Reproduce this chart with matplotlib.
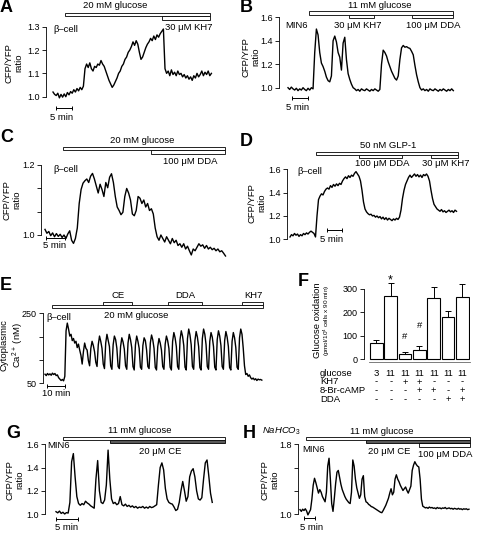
import numpy as np
import matplotlib.pyplot as plt
from matplotlib.patches import Rectangle
from matplotlib.transforms import blended_transform_factory

plt.rcParams['font.family'] = ['Liberation Sans', 'DejaVu Sans']
plt.rcParams['mathtext.fontset'] = 'custom'
plt.rcParams['mathtext.rm'] = 'Liberation Sans'
plt.rcParams['mathtext.it'] = 'Liberation Sans:italic'

# ---- data (time in min) ----
# A: beta-cell, 20 mM glucose then KH7, sampled every 0.5 min
a_dt = 0.5
a_ratio = [1.02, 1.01, 1.005, 1.015, 0.995, 1.01, 0.998, 1.012, 1.0, 1.018,
           1.008, 1.022, 1.015, 1.03, 1.02, 1.035, 1.025, 1.04, 1.03, 1.045,
           1.12, 1.14, 1.125, 1.145, 1.12, 1.11, 1.13, 1.125, 1.14, 1.135,
           1.155, 1.14, 1.13, 1.11, 1.09, 1.07, 1.055, 1.04, 1.05, 1.065,
           1.08, 1.10, 1.11, 1.13, 1.14, 1.16, 1.17, 1.19, 1.20, 1.215,
           1.235, 1.22, 1.24, 1.225, 1.19, 1.16, 1.17, 1.19, 1.21, 1.225,
           1.235, 1.25, 1.24, 1.26, 1.245, 1.265, 1.255, 1.27, 1.28, 1.29,
           1.12, 1.10, 1.11, 1.09, 1.115, 1.095, 1.105, 1.09, 1.11, 1.095,
           1.10, 1.085, 1.095, 1.08, 1.09, 1.075, 1.085, 1.07, 1.09, 1.08,
           1.10, 1.085, 1.095, 1.11, 1.09, 1.105, 1.095, 1.11, 1.09, 1.10]

# B: MIN6, 11 mM glucose, KH7 and DDA
b_dt = 0.5
b_ratio = [1.0, 0.985, 1.005, 0.99, 0.98, 0.995, 0.975, 0.99, 0.98, 1.0,
           0.985, 0.975, 0.995, 0.98, 1.0, 0.99, 1.30, 1.50, 1.45, 1.30,
           1.21, 1.18, 1.14, 1.09, 1.06, 1.05, 1.10, 1.40, 1.44, 1.39,
           1.30, 1.26, 1.15, 1.38, 1.43, 1.24, 1.12, 1.07, 1.03, 1.0,
           0.99, 0.975, 0.985, 0.97, 0.99, 0.98, 0.975, 0.99, 0.98, 0.97,
           0.985, 0.975, 0.99, 0.98, 0.97, 0.985, 1.20, 1.32, 1.30, 1.27,
           1.22, 1.18, 1.14, 1.11, 1.08, 1.065, 1.10, 1.24, 1.34, 1.36,
           1.345, 1.35, 1.34, 1.335, 1.31, 1.28, 1.19, 1.11, 1.05, 1.0,
           0.98, 0.99, 0.975, 0.985, 0.97, 0.99, 0.98, 0.975, 0.99, 0.98,
           0.97, 0.985, 0.975, 0.99, 0.98, 0.97, 0.985, 0.975, 0.99, 0.975]

# C: beta-cell, 20 mM glucose then DDA
c_dt = 0.5
c_ratio = [1.016, 1.005, 1.01, 0.998, 1.006, 0.995, 1.004, 0.996, 1.002, 0.993,
           1.0, 0.99, 1.003, 1.012, 0.985, 0.976, 0.99, 1.02, 1.09, 1.13,
           1.148, 1.155, 1.16, 1.15, 1.168, 1.176, 1.16, 1.14, 1.12, 1.145,
           1.13, 1.11, 1.15, 1.135, 1.165, 1.175, 1.15, 1.11, 1.08, 1.07,
           1.058, 1.065, 1.11, 1.133, 1.12, 1.10, 1.06, 1.055, 1.07, 1.11,
           1.105, 1.09, 1.10, 1.08, 1.09, 1.07, 1.075, 1.06, 1.02, 0.995,
           0.985, 1.0, 0.99, 0.98, 0.995, 0.985, 0.975, 0.99, 0.978, 0.985,
           0.97, 0.975, 0.965, 0.975, 0.96, 0.968, 0.955, 0.943, 0.96, 0.955,
           0.965, 0.975, 0.968, 0.972, 0.962, 0.97, 0.96, 0.965, 0.958, 0.962,
           0.955, 0.96, 0.952, 0.955, 0.948, 0.94]

# D: beta-cell, GLP-1, DDA, KH7
d_dt = 0.5
d_ratio = [1.02, 1.04, 1.03, 1.05, 1.035, 1.045, 1.025, 1.04, 1.03, 1.05,
           1.04, 1.055, 1.045, 1.06, 1.07, 1.06, 1.05, 1.02, 1.20, 1.34,
           1.37, 1.39, 1.38, 1.41, 1.43, 1.44, 1.43, 1.46, 1.445, 1.47,
           1.455, 1.475, 1.46, 1.48, 1.47, 1.50, 1.52, 1.535, 1.52, 1.545,
           1.53, 1.55, 1.54, 1.565, 1.58, 1.56, 1.54, 1.50, 1.42, 1.32,
           1.26, 1.235, 1.22, 1.21, 1.215, 1.20, 1.205, 1.19, 1.20, 1.185,
           1.195, 1.175, 1.19, 1.17, 1.185, 1.165, 1.18, 1.17, 1.16, 1.175,
           1.165, 1.18, 1.17, 1.19, 1.25, 1.35, 1.42, 1.47, 1.50, 1.53,
           1.55, 1.53, 1.545, 1.56, 1.54, 1.555, 1.535, 1.55, 1.53, 1.555,
           1.545, 1.56, 1.54, 1.50, 1.42, 1.35, 1.30, 1.28, 1.26, 1.25,
           1.24, 1.255, 1.235, 1.245, 1.23, 1.24, 1.25, 1.235, 1.245, 1.23,
           1.25, 1.24]

# E: cytoplasmic Ca2+ (nM), sampled every 0.7 min
e_dt = 0.7
e_ca = [76, 72, 78, 74, 77, 73, 79, 75, 78, 72, 74, 66, 62, 58, 61, 57,
        70, 200, 222, 205, 185, 190, 172, 178, 165, 170, 152, 162, 145, 130, 105,
        140, 165, 150, 145, 115, 100,
        150, 170, 158, 140, 110, 98,
        160, 185, 170, 150, 105, 92,
        165, 190, 172, 155, 100, 90,
        160, 185, 175, 150, 98, 92,
        155, 180, 168, 148, 100, 90,
        165, 190, 175, 152, 98, 88,
        160, 185, 170, 150, 96, 90,
        158, 180, 172, 145, 98, 92,
        165, 188, 174, 150, 95, 88,
        155, 178, 165, 145, 98, 90,
        162, 185, 172, 150, 96, 88,
        170, 195, 180, 155, 98, 90,
        175, 200, 185, 158, 96, 88,
        178, 205, 188, 160, 98, 90,
        172, 198, 182, 155, 95, 88,
        178, 205, 190, 160, 98, 90,
        170, 195, 182, 155, 96, 88,
        175, 200, 185, 158, 98, 90,
        172, 198, 182, 155, 95, 88,
        170, 195, 180, 152, 96, 90,
        180, 205, 190, 150, 100, 75,
        78, 70, 74, 66, 62, 65, 60, 63, 58, 62, 60, 61, 59]

# F: glucose oxidation (pmol/10^4 cells x 90 min)
ox_mean = [68, 270, 22, 40, 262, 180, 265]
ox_err = [13, 54, 8, 17, 45, 26, 55]
row_names = ['glucose', 'KH7', '8-Br-cAMP', 'DDA']
row_glucose = ['3', '11', '11', '11', '11', '11', '11']
row_kh7 = ['-', '-', '+', '+', '-', '-', '-']
row_camp = ['-', '-', '-', '+', '+', '-', '+']
row_dda = ['-', '-', '-', '-', '-', '+', '+']

# G: MIN6, 11 mM glucose then CE, sampled every 0.4 min
g_dt = 0.4
g_ratio = [1.02, 1.01, 1.025, 1.005, 1.015, 1.0, 1.012, 1.008, 1.10, 1.45,
           1.52, 1.32, 1.15, 1.09, 1.075, 1.09, 1.08, 1.11, 1.095, 1.085,
           1.07, 1.06, 1.05, 1.30, 1.46, 1.20, 1.10, 1.09, 1.12, 1.25,
           1.55, 1.30, 1.13, 1.09, 1.10, 1.08, 1.09, 1.15, 1.08, 1.07,
           1.085, 1.065, 1.075, 1.06, 1.07, 1.055, 1.065, 1.05, 1.06, 1.055,
           1.065, 1.05, 1.06, 1.05, 1.065, 1.055, 1.06, 1.07, 1.08, 1.25,
           1.40, 1.44, 1.38, 1.22, 1.13, 1.10, 1.09, 1.085, 1.06, 1.03,
           1.04, 1.10, 1.20, 1.28, 1.20, 1.11, 1.15, 1.32, 1.37, 1.39,
           1.32, 1.20, 1.13, 1.12, 1.14, 1.30, 1.44, 1.465, 1.33, 1.18,
           1.10]

# H: MIN6 in NaHCO3, glucose, CE, DDA, sampled every 0.6 min
h_dt = 0.6
h_ratio = [1.05, 1.03, 1.055, 1.04, 1.06, 1.035, 0.99, 1.02, 1.05, 1.17,
           1.33, 1.41, 1.36, 1.30, 1.24, 1.28, 1.25, 1.20, 1.17, 1.14,
           1.25, 1.55, 1.64, 1.40, 1.12, 1.03, 1.18, 1.35, 1.48, 1.50,
           1.42, 1.34, 1.28, 1.24, 1.20, 1.17, 1.15, 1.13, 1.12, 1.25,
           1.62, 1.55, 1.40, 1.30, 1.24, 1.18, 1.22, 1.40, 1.44, 1.20,
           1.14, 1.13, 1.11, 1.10, 1.085, 1.08, 1.07, 1.06, 1.05, 1.04,
           1.03, 1.02, 1.015, 1.04, 1.07, 1.10, 1.14, 1.18, 1.24, 1.29,
           1.22, 1.25, 1.40, 1.45, 1.40, 1.37, 1.33, 1.30, 1.27, 1.29,
           1.31, 1.27, 1.24, 1.28, 1.32, 1.50, 1.56, 1.60, 1.57, 1.55,
           1.54, 1.40, 1.17, 1.09, 1.08, 1.07, 1.075, 1.065, 1.08, 1.07,
           1.075, 1.065, 1.07, 1.06, 1.075, 1.065, 1.07, 1.06, 1.07, 1.065,
           1.075, 1.06, 1.065, 1.07, 1.06, 1.065, 1.055, 1.065, 1.06, 1.055,
           1.065, 1.055, 1.06, 1.05, 1.06, 1.055, 1.06, 1.05, 1.055]

# ---- figure in pixel layout ----
W, H = 480, 533
fig = plt.figure(figsize=(W / 100, H / 100), dpi=100)
FS = 6.8
TFS = 6.5


def fx(px):
    return px / W


def fy(py):
    return 1 - py / H


def ftext(px, py, s, **kw):
    kw.setdefault('fontsize', FS)
    kw.setdefault('va', 'center')
    fig.text(fx(px), fy(py), s, **kw)


def panel_label(px, py, s):
    ftext(px, py, s, fontsize=13, weight='bold', ha='left')


def trace_axes(L, R, T, B, x0, ppm, v_lo, p_lo, v_hi, p_hi, ticks, labels):
    ax = fig.add_axes([fx(L), fy(B), (R - L) / W, (B - T) / H])
    s = (v_hi - v_lo) / (p_lo - p_hi)
    ax.set_ylim(v_lo - (B - p_lo) * s, v_lo + (p_lo - T) * s)
    ax.set_xlim((L - x0) / ppm, (R - x0) / ppm)
    for sp in ['top', 'right', 'bottom']:
        ax.spines[sp].set_visible(False)
    ax.spines['left'].set_bounds(v_lo, v_hi)
    ax.spines['left'].set_linewidth(0.6)
    ax.set_xticks([])
    ax.set_yticks(ticks)
    ax.set_yticklabels(labels)
    ax.tick_params(axis='y', length=3, width=0.6, labelsize=TFS, pad=1.5)
    ax.patch.set_alpha(0)
    return ax


def treat(ax, t0, t1, ptop, pbot, fc='white'):
    tr = blended_transform_factory(ax.transData, fig.transFigure)
    ax.add_patch(Rectangle((t0, fy(pbot)), t1 - t0, fy(ptop) - fy(pbot),
                           transform=tr, fc=fc, ec='black', lw=0.6,
                           clip_on=False))


def scale_bar(ax, t0, length, py):
    tr = blended_transform_factory(ax.transData, fig.transFigure)
    ax.plot([t0, t0 + length], [fy(py), fy(py)], transform=tr, color='black',
            lw=0.7, marker='|', ms=3, mew=0.7, clip_on=False)


def trace(ax, dt, vals):
    t = np.arange(len(vals)) * dt
    ax.plot(t, vals, color='black', lw=1.0)


def ratio_label(px, py):
    ftext(px, py, 'CFP/YFP\nratio', rotation=90, ha='center',
          multialignment='center')


# A
panel_label(0, 8, 'A')
axA = trace_axes(46, 214, 22, 100, 53, 3.2, 1.0, 96.7, 1.3, 26.7,
                 [1.0, 1.1, 1.2, 1.3], ['1.0', '1.1', '1.2', '1.3'])
trace(axA, a_dt, a_ratio)
treat(axA, 3.75, 49.1, 12.7, 16)
treat(axA, 34.1, 49.1, 16, 19.5)
ftext(115, 6, '20 mM glucose', ha='center')
ftext(189, 27, '30 \u03bcM KH7', ha='center')
ftext(53, 30, '\u03b2\u2013cell', ha='left')
ratio_label(14, 63)
scale_bar(axA, 0.94, 5, 108)
ftext(62, 117, '5 min', ha='center')

# B
panel_label(240, 8, 'B')
axB = trace_axes(279, 455, 14, 92, 288, 3.34, 1.0, 87.7, 1.6, 17.3,
                 [1.0, 1.2, 1.4, 1.6], ['1.0', '1.2', '1.4', '1.6'])
trace(axB, b_dt, b_ratio)
treat(axB, 6.3, 49.4, 11, 15)
treat(axB, 18.3, 25.7, 15, 18)
treat(axB, 37.1, 49.4, 15, 18)
ftext(380, 5, '11 mM glucose', ha='center')
ftext(358, 25, '30 \u03bcM KH7', ha='center')
ftext(433, 25, '100 \u03bcM DDA', ha='center')
ftext(285, 25, 'MIN6', ha='left')
ratio_label(251, 57)
scale_bar(axB, 1.1, 5, 98)
ftext(298, 108, '5 min', ha='center')

# C
panel_label(0, 138, 'C')
axC = trace_axes(41, 230, 160, 258, 45, 3.8, 1.0, 235, 1.2, 165,
                 np.linspace(1.0, 1.2, 4), ['1.0', '', '', '1.2'])
trace(axC, c_dt, c_ratio)
treat(axC, 4.7, 47.4, 146.7, 150)
treat(axC, 27.9, 47.4, 150, 154)
ftext(142, 140, '20 mM glucose', ha='center')
ftext(190, 162, '100 \u03bcM DDA', ha='center')
ftext(53, 170, '\u03b2\u2013cell', ha='left')
ratio_label(12, 200)
scale_bar(axC, 0.26, 5, 237.5)
ftext(55, 245, '5 min', ha='center')

# D
panel_label(240, 141, 'D')
axD = trace_axes(287, 460, 165, 243, 290, 3.0, 1.0, 239.3, 1.6, 169.3,
                 [1.0, 1.2, 1.4, 1.6], ['1.0', '1.2', '1.4', '1.6'])
trace(axD, d_dt, d_ratio)
treat(axD, 8.7, 56, 151.7, 155)
treat(axD, 23, 37.3, 155, 158)
treat(axD, 47, 56, 155, 158)
ftext(388, 145, '50 nM GLP-1', ha='center')
ftext(382, 164, '100 \u03bcM DDA', ha='center')
ftext(446, 164, '30 \u03bcM KH7', ha='center')
ftext(297, 172, '\u03b2\u2013cell', ha='left')
ratio_label(257, 203)
scale_bar(axD, 12.3, 5, 230)
ftext(332, 240, '5 min', ha='center')

# E
panel_label(0, 285, 'E')
axE = trace_axes(43, 265, 310, 386, 45, 1.77, 50, 383.3, 250, 313.3,
                 np.linspace(50, 250, 4), ['50', '', '', '250'])
trace(axE, e_dt, e_ca)
treat(axE, 4.0, 123.2, 305, 308.3)
treat(axE, 32.8, 49.2, 301.7, 305)
treat(axE, 69.5, 88.7, 301.7, 305)
treat(axE, 111.3, 123.2, 301.7, 305)
ftext(118, 295, 'CE', ha='center')
ftext(185, 295, 'DDA', ha='center')
ftext(253, 295, 'KH7', ha='center')
ftext(136, 316, '20 mM glucose', ha='center')
ftext(46, 317, '\u03b2\u2013cell', ha='left')
ftext(13, 345, 'Cytoplasmic\nCa$^{2+}$ (nM)', rotation=90, ha='center',
      multialignment='center')
scale_bar(axE, 1.1, 10, 386)
ftext(56, 394, '10 min', ha='center')

# F
panel_label(298, 282, 'F')
axF = fig.add_axes([fx(364), fy(362), (470 - 364) / W, (362 - 280) / H])
pos = np.arange(len(ox_mean))
s = 300 / (359.3 - 289)
axF.set_ylim(-(362 - 359.3) * s, (359.3 - 280) * s)
axF.set_xlim((364 - 376.3) / 14.35, (470 - 376.3) / 14.35)
axF.bar(pos, ox_mean, width=0.87, color='white', edgecolor='black', lw=0.8)
axF.errorbar(pos, ox_mean, yerr=[np.zeros(len(ox_err)), ox_err], fmt='none',
             ecolor='black', elinewidth=0.7, capsize=2, capthick=0.7)
for sp in ['top', 'right']:
    axF.spines[sp].set_visible(False)
axF.spines['left'].set_bounds(0, 300)
axF.spines['bottom'].set_bounds(-0.5, 6.5)
axF.spines['left'].set_linewidth(0.6)
axF.spines['bottom'].set_linewidth(0.6)
axF.spines['bottom'].set_color('0.4')
axF.set_xticks([])
axF.set_yticks([0, 100, 200, 300])
axF.tick_params(axis='y', length=3, width=0.6, labelsize=TFS, pad=1.5)
axF.patch.set_alpha(0)
axF.text(1, 335, '*', ha='center', va='center', fontsize=9)
axF.text(2, 96, '#', ha='center', va='center', fontsize=FS)
axF.text(3, 146, '#', ha='center', va='center', fontsize=FS)
ftext(318, 320, 'Glucose oxidation', rotation=90, ha='center')
ftext(326.5, 320, '(pmol/10$^4$ cells x 90 min)', rotation=90, ha='center',
      fontsize=4.6)
trF = blended_transform_factory(axF.transData, fig.transFigure)
for py, name, row in zip([373.5, 382, 390.5, 399.5], row_names,
                         [row_glucose, row_kh7, row_camp, row_dda]):
    ftext(320, py, name, ha='left')
    for i, sym in enumerate(row):
        axF.text(i, fy(py), sym, transform=trF, ha='center', va='center',
                 fontsize=FS)

# G
panel_label(6, 433, 'G')
axG = trace_axes(45, 226, 440, 518, 56, 4.34, 1.0, 514, 1.6, 444.3,
                 [1.0, 1.2, 1.4, 1.6], ['1.0', '1.2', '1.4', '1.6'])
trace(axG, g_dt, g_ratio)
treat(axG, 12.4, 38.9, 439.5, 443.3, fc='0.35')
treat(axG, 1.6, 38.9, 436.7, 440)
ftext(140, 430.7, '11 mM glucose', ha='center')
ftext(160, 451.7, '20 \u03bcM CE', ha='center')
ftext(47, 445, 'MIN6', ha='left')
ratio_label(15, 480)
scale_bar(axG, 0, 5, 519)
ftext(67, 527, '5 min', ha='center')

# H
panel_label(243, 434, 'H')
axH = trace_axes(298, 471, 440, 518, 300, 2.2, 1.0, 514, 1.8, 444.3,
                 np.linspace(1.0, 1.8, 4), ['1.0', '', '', '1.8'])
trace(axH, h_dt, h_ratio)
treat(axH, 54.1, 77.3, 443, 446.7)
treat(axH, 30, 77.3, 439.5, 443, fc='0.35')
treat(axH, 2.7, 77.3, 436.7, 440)
ftext(262, 431.7, '$\\mathit{NaHCO_3}$', ha='left')
ftext(382, 431.7, '11 mM glucose', ha='center')
ftext(389, 451.7, '20 \u03bcM CE', ha='center')
ftext(445, 454.3, '100 \u03bcM DDA', ha='center')
ftext(302, 449.3, 'MIN6', ha='left')
ratio_label(270, 480)
scale_bar(axH, 1.8, 5, 518)
ftext(312, 527, '5 min', ha='center')

fig.savefig('out.png', dpi=100)
